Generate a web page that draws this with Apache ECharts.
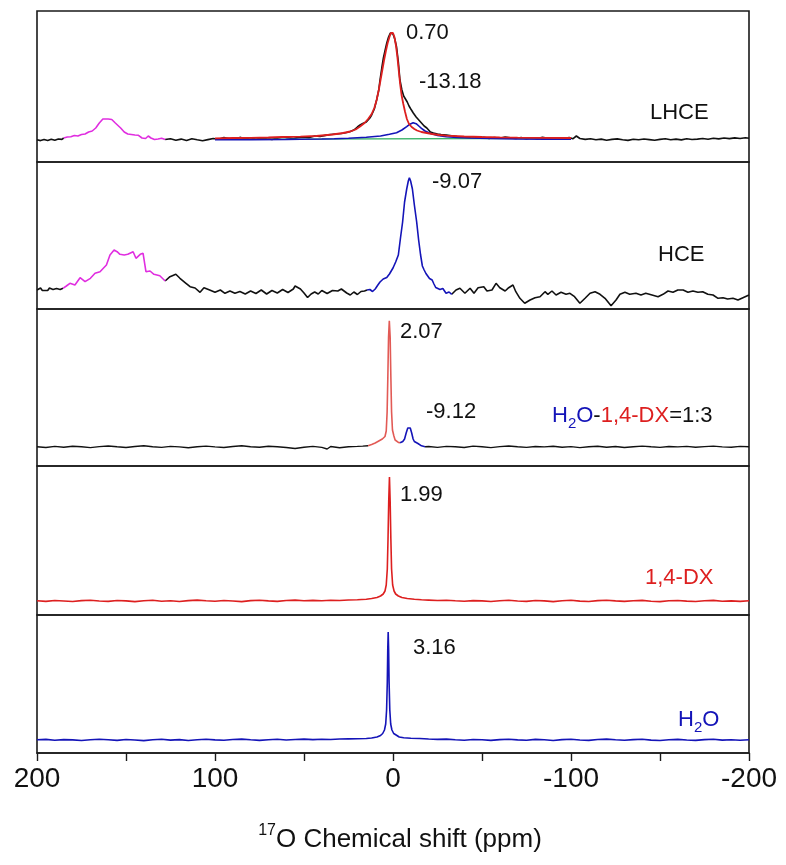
<!DOCTYPE html>
<html><head><meta charset="utf-8">
<script src="https://cdn.jsdelivr.net/npm/echarts@6/dist/echarts.min.js"></script>
<style>html,body{margin:0;padding:0;background:#fff}#c{width:786px;height:865px}</style>
</head><body><div id="c"></div><script>
// ---------- DATA (ppm, intensity a.u.) ----------
const tickLabels = [200, 100, 0, -100, -200];

// Panel 1: LHCE
const lhceExpLeft = [[200,0.3],[198,-0.6],[196,0.6],[194,-0.4],[192,0.8],[190,-0.2],[188,1],[186,0.6],[185,2]];
const lhceMagenta = [[185,2],[183,3],[181,3.3],[179,4.5],[177,4],[175,5.5],[173,6],[171,8],[169,9],[167,12],[165,17],[163,21],[162,23],[160,21],[158,20.5],[156,17],[155,15],[153,12],[151,8],[149,6],[147,5.5],[145,5],[143,4.7],[141,2],[139,1.5],[137.5,4],[136,2],[134,0.5],[132,1],[130,1.8],[128,0.5]];
const lhceExpRight = [[128,0.5],[125,1.2],[122,-0.3],[119,0.9],[116,-0.6],[113,1.3],[110,0.2],[107,-0.8],[104,0.4],[101,1.5],[98,0.8],[95,2.4],[92,1.1],[89,0.9],[86,2.6],[83,1.3],[80,2.2],[77,0.8],[74,1.9],[71,1.2],[68,0.6],[65,1.8],[62,3],[59,2.2],[56,1.4],[53,2.6],[50,3],[47,2.4],[44,4],[41,3.5],[38,4.6],[35,5.5],[32,6],[29,6.5],[26,7.5],[24,8.5],[22,10],[20,13],[18.5,15],[17,16.5],[15,18],[13,22],[12,25],[10.5,31],[9.2,40],[8,50],[7.3,60],[6.3,72],[5.4,82],[4.4,90],[3.5,97],[2.5,103],[1.5,107],[0.7,108],[0,106],[-1,101],[-2,93],[-3,78],[-3.9,60],[-5,50],[-6,44],[-7,41],[-8,38],[-9,34],[-10,31],[-11.4,27],[-13,23],[-14.5,20],[-16,17],[-17.5,14],[-19,12],[-21,8],[-22.7,7],[-25,6],[-27,5.5],[-30,5],[-33,4.2],[-36,3.4],[-39,3.3],[-42,2.6],[-45,3.2],[-48,2.2],[-51,2.8],[-54,1.6],[-57,2.5],[-60,1.8],[-63,2.9],[-66,2.1],[-69,1.5],[-72,2.4],[-75,1.2],[-78,2.2],[-81,1.4],[-84,2.6],[-87,1.8],[-90,1.2],[-93,2.3],[-96,1.6],[-99,2.5],[-101,1.2],[-103,4],[-105,1.5],[-108,0.6],[-111,1.2],[-114,0.2],[-117,0.9],[-120,-0.2],[-123,0.6],[-126,1.1],[-129,0.3],[-132,-0.4],[-135,0.8],[-138,0.2],[-141,1],[-144,0.4],[-147,-0.3],[-150,0.6],[-153,1.2],[-156,0.3],[-159,0.9],[-162,0.1],[-165,1.3],[-168,0.5],[-171,0.9],[-174,1.5],[-177,0.7],[-180,1.8],[-183,1.1],[-186,2],[-189,1.4],[-192,2.1],[-195,1.5],[-198,2.3],[-200,1.7]];
const lhceFit = [[100,1.7],[90,2],[80,2.2],[70,2.5],[62,3],[52,3.3],[43,4],[34,5.5],[28,7],[24,8.5],[21,10.5],[18.5,13.5],[16,17],[14,21],[12,26],[10.5,32],[9.2,40],[8,50],[7,60],[6,70],[5,80],[4,89],[3,97],[2,103],[1.2,107],[0.7,108],[0,107],[-0.8,103],[-1.6,95],[-2.4,84],[-3.2,70],[-4,56],[-4.8,45],[-5.8,36],[-6.8,28],[-7.8,21],[-9,16],[-10.5,13],[-12,11],[-13.5,9.5],[-16,8],[-19,7],[-22,6],[-26,5],[-30,4.3],[-40,3.5],[-50,3],[-60,2.6],[-70,2.3],[-85,2.1],[-100,2]];
const lhceComp = [[100,0.3],[80,0.4],[60,0.6],[52,0.7],[40,1],[33,1.3],[25,1.8],[15,2.7],[7,4],[2,5.8],[-2,7.3],[-5,10],[-7.7,13.3],[-9.5,15.8],[-11.3,17.3],[-13,16.3],[-14.5,14],[-16,11.7],[-18,9],[-20.8,6.7],[-25,4.6],[-30,3.3],[-36,2.5],[-43,2],[-55,1.5],[-70,1.1],[-85,0.9],[-100,0.7]];
const lhceBase = [[100,0.6],[-100,1.8]];

// Panel 2: HCE
const hceExpLeft = [[200,0],[199,-1.5],[198,2],[197,-0.5],[196,1.5],[194,-0.5],[193,2],[191,0.5],[189,1.5],[187,0.5],[186,2.5],[185.4,1.7]];
const hceMagenta = [[185.4,1.7],[183.5,4],[181.5,6.7],[178.7,5],[175.8,12.3],[173,8.3],[170,11.7],[167.4,16.7],[164.6,18.3],[161,25],[159,35],[156.7,40],[155,38.3],[153.4,35.7],[151,35],[149,35.7],[146,38.3],[144.4,31.7],[142,35.7],[140.4,36.7],[138.8,18.3],[136.5,19],[134.3,15.7],[131,14.3],[128,9]];
const hceExpMid = [[128,9],[125.3,13.3],[122,15.7],[119.7,11.7],[116.3,6.7],[114,3.3],[111.2,2],[108.4,-2.3],[106.2,2.3],[103,0],[100,-2.3],[97,0],[94.4,-3.3],[91.6,-1],[88.8,-3.3],[86,-1.5],[83,-4],[80,-1],[77,-3.5],[74,0],[71,-4],[68,-0.5],[65,-3],[62,0.5],[59,-2.5],[56,1],[55,4],[52,1],[50,-3],[48,-7.5],[46,-4],[44,-2],[42,-4],[40,-0.5],[37,-3.5],[34,-0.5],[31,-1],[29,1],[26,-3],[24,-5],[22,-2],[20,-4.5],[18,-1.5],[16,-1],[14.6,0]];
const hceBlue = [[14.6,0],[13,0.5],[11.5,-1.5],[10,1],[8.5,5],[7.3,8],[5.5,11],[3.5,12.5],[2,16],[0,22],[-1.5,28],[-3,35],[-4.2,52],[-5.4,68],[-6.5,88],[-7.7,101],[-8.6,109],[-9.2,112.3],[-9.9,109],[-10.9,101],[-12,85],[-13.3,68],[-14.4,50],[-15.5,35],[-16.5,24],[-17.5,20],[-18.5,16.5],[-19.5,15],[-20.5,11.5],[-22,10],[-23,6],[-24,2.5],[-25,4],[-26.4,0.5],[-28,1.5],[-29.8,-3.3],[-31.5,-2],[-33,-4.3]];
const hceExpRight = [[-33,-4.3],[-35.4,0],[-37.6,1.7],[-40.4,-3.3],[-43.3,1.7],[-45.5,-3.3],[-47.8,2.3],[-51,3.3],[-52.8,-1],[-55.6,0],[-57.9,6.7],[-60,2.3],[-63,-1],[-65,2.3],[-67.4,5],[-69,-1.7],[-71.3,-8.3],[-74,-13.3],[-77,-10],[-79.8,-7.7],[-82.6,-6.7],[-85.4,-1.7],[-87,-4.3],[-89.3,-1],[-91.6,-5],[-94.4,-2.3],[-97.2,-4.3],[-99.4,-3.3],[-102,-6.7],[-105,-13.3],[-107.9,-8.3],[-110.7,-3.3],[-113.5,-1.7],[-116.3,-4.3],[-119.1,-8.3],[-122.5,-15.7],[-125.3,-10],[-127.5,-4.3],[-130.3,-2.3],[-133,-4.3],[-136.5,-3.3],[-139.3,-5],[-142,-3.3],[-145.5,-5],[-148.9,-6.7],[-151.7,-4.3],[-154.5,-1],[-157.3,-2.3],[-160,0],[-163,0],[-165.7,-2.3],[-168.5,-1],[-171.3,-2.3],[-174,-1.7],[-176.9,-4.3],[-179.8,-5],[-182.6,-8.3],[-185.4,-7.7],[-188,-9],[-191,-8.3],[-193.8,-10],[-196.6,-7.7],[-200,-5]];

// Panel 3: H2O-1,4-DX = 1:3
const mixExpLeft = [[200,0.3],[195,-0.5],[190,0.6],[185,-0.3],[180,0.8],[175,0.2],[170,-0.6],[165,0.4],[160,1],[155,0.2],[150,-0.5],[145,0.5],[140,1.2],[135,0.3],[130,-0.4],[125,0.6],[120,0.1],[115,-0.8],[110,0.2],[105,0.9],[100,0.1],[95,-0.5],[90,0.5],[85,1.2],[80,0.2],[75,-0.3],[70,0.8],[65,0.3],[60,-0.5],[55,-1.5],[50,-0.2],[45,0.6],[40,-0.4],[37,-2],[35,0.5],[30,-0.8],[25,0.2],[20,0.6],[17,0.9],[14,1.3]];
const mixRed = [[14,1.3],[12,2.5],[10,4],[8,6],[6,8],[4.5,10.5],[3.8,16],[3.3,35],[2.9,70],[2.5,110],[2.07,126.3],[1.6,110],[1.2,70],[0.8,35],[0.3,17],[-0.5,11],[-1.2,7],[-2,5.3],[-3,4.6],[-4,4.3]];
const mixBlue = [[-4,4.3],[-5.5,5.5],[-6.5,8],[-7.4,14],[-8.3,19],[-9,20.3],[-9.7,19],[-10.5,14],[-11.3,8],[-12,5.5],[-13,4],[-14,3.5],[-15,2],[-16,1.2],[-17,0.5],[-18,0.3]];
const mixExpRight = [[-18,0.3],[-20,0.5],[-25,-0.4],[-30,0.6],[-35,0.2],[-40,-0.5],[-45,0.9],[-50,0.3],[-55,-0.6],[-60,0.4],[-65,1],[-70,0.2],[-75,-0.4],[-80,0.5],[-85,0.1],[-90,0.7],[-95,-0.3],[-100,0.4],[-105,-0.6],[-110,0.3],[-115,0.8],[-120,-0.2],[-125,0.5],[-130,-0.5],[-135,0.3],[-140,0.9],[-145,0.2],[-150,-0.4],[-155,0.5],[-160,0.1],[-165,0.6],[-170,-0.2],[-175,0.4],[-180,0.9],[-185,0.1],[-190,-0.3],[-195,0.6],[-200,0.2]];

// Panel 4: 1,4-DX
const dxSpec = [[200,0.3],[195,-0.4],[190,0.5],[185,0],[180,-0.5],[175,0.4],[170,0.8],[165,0],[160,-0.4],[155,0.5],[150,0.1],[145,-0.6],[140,0.3],[135,0.7],[130,-0.2],[125,0.3],[120,-0.5],[115,0.4],[110,0.9],[105,0.2],[100,-0.3],[95,0.5],[90,0],[85,-0.6],[80,0.4],[75,0.8],[70,0.1],[65,-0.4],[60,0.5],[55,0.9],[50,0.3],[45,0.6],[40,0.2],[35,0.8],[30,0.5],[25,1],[20,1.3],[15,1.8],[12,2.5],[9,3.5],[7,5],[5.5,7],[4.5,10],[3.8,16],[3.2,32],[2.8,62],[2.4,100],[1.99,124],[1.6,100],[1.2,62],[0.8,32],[0.2,16],[-0.6,10],[-1.5,7],[-3,5],[-5,3.5],[-8,2.5],[-12,1.8],[-16,1.2],[-20,0.9],[-25,0.5],[-30,0.8],[-35,0.2],[-40,-0.3],[-45,0.4],[-50,0.1],[-55,-0.5],[-60,0.3],[-65,0.7],[-70,0],[-75,-0.4],[-80,0.5],[-85,0.1],[-90,-0.6],[-95,0.3],[-100,0.7],[-105,-0.1],[-110,-0.5],[-115,0.4],[-120,0.8],[-125,0.1],[-130,-0.4],[-135,0.3],[-140,0.6],[-145,-0.2],[-150,-0.6],[-155,0.2],[-160,0.5],[-165,-0.1],[-170,-0.5],[-175,0.3],[-180,0.6],[-185,-0.2],[-190,0.1],[-195,-0.4],[-200,0.2]];

// Panel 5: H2O
const waterSpec = [[200,0.2],[195,0.6],[190,-0.3],[185,0.4],[180,0.1],[175,-0.5],[170,0.3],[165,0.8],[160,0.2],[155,-0.4],[150,0.5],[145,0],[140,-0.6],[135,0.3],[130,0.7],[125,-0.1],[120,0.4],[115,-0.5],[110,0.2],[105,0.8],[100,0.1],[95,-0.3],[90,0.5],[85,0.9],[80,0.2],[75,-0.4],[70,0.3],[65,0.7],[60,0],[55,0.5],[50,0.9],[45,0.4],[40,0.8],[35,0.5],[30,1],[25,1.1],[20,1.2],[15,1.5],[12,2],[9,3],[7,4.5],[5.8,6.5],[4.8,10],[4.1,16],[3.6,30],[3.2,58],[2.95,90],[2.7,108],[2.45,90],[2.2,58],[1.8,30],[1.3,16],[0.6,10],[-0.4,6.5],[-1.5,4.5],[-3.5,3],[-6,2.2],[-10,1.8],[-15,1.5],[-20,1],[-25,0.6],[-30,0.9],[-35,0.3],[-40,-0.2],[-45,0.5],[-50,0.2],[-55,-0.4],[-60,0.4],[-65,0.8],[-70,0.1],[-75,-0.3],[-80,0.6],[-85,0.2],[-90,-0.5],[-95,0.4],[-100,0.8],[-105,0],[-110,-0.4],[-115,0.5],[-120,0.9],[-125,0.2],[-130,-0.3],[-135,0.4],[-140,0.7],[-145,-0.1],[-150,-0.5],[-155,0.3],[-160,0.6],[-165,0],[-170,-0.4],[-175,0.4],[-180,0.7],[-185,-0.1],[-190,0.2],[-195,-0.3],[-200,0.3]];

// ---------- LAYOUT / STYLE ----------
const FONT = '"Liberation Sans", Arial, Helvetica, sans-serif';
const BLACK = '#111111', RED = '#dd1f1f', RED_LIGHT = '#e25a55', BLUE = '#1414b8', MAG = '#e02ee0', GREEN = '#3cb36a';
const panels = [
  {top: 11,  height: 151, ymin: -22, ymax: 129},
  {top: 162, height: 147, ymin: -19, ymax: 128},
  {top: 309, height: 157, ymin: -19, ymax: 138},
  {top: 466, height: 149, ymin: -14, ymax: 135},
  {top: 615, height: 138, ymin: -13, ymax: 125}
];

const grids = panels.map(p => ({
  left: 37, right: 37, top: p.top, height: p.height,
  show: true, borderColor: '#1a1a1a', borderWidth: 1.6, backgroundColor: 'transparent'
}));
const xAxes = panels.map((p, i) => ({
  type: 'value', gridIndex: i, min: -200, max: 200, interval: 50, inverse: true,
  position: 'bottom',
  show: i === 4,
  axisLine: {show: true, onZero: false, lineStyle: {color: '#1a1a1a', width: 1.6}},
  axisTick: {show: true, inside: false, length: 8, lineStyle: {color: '#1a1a1a', width: 1.4}},
  splitLine: {show: false},
  axisLabel: {
    show: true, fontSize: 28, color: '#111', fontFamily: FONT, margin: 12,
    formatter: v => tickLabels.indexOf(v) >= 0 ? String(v) : ''
  }
}));
const yAxes = panels.map((p, i) => ({
  type: 'value', gridIndex: i, min: p.ymin, max: p.ymax, show: false, splitLine: {show: false}
}));

function ln(i, data, color, w, z) {
  return {
    type: 'line', xAxisIndex: i, yAxisIndex: i, data: data, showSymbol: false, symbol: 'none',
    lineStyle: {color: color, width: w || 1.6}, z: z || 2, animation: false, silent: true
  };
}
const series = [
  ln(0, lhceExpLeft, BLACK), ln(0, lhceExpRight, BLACK), ln(0, lhceMagenta, MAG, 1.6, 3),
  ln(0, lhceBase, GREEN, 1.4, 3), ln(0, lhceComp, BLUE, 1.6, 4), ln(0, lhceFit, RED, 1.8, 5),
  ln(1, hceExpLeft, BLACK), ln(1, hceMagenta, MAG, 1.6, 3), ln(1, hceExpMid, BLACK), ln(1, hceBlue, BLUE, 1.6, 3), ln(1, hceExpRight, BLACK),
  ln(2, mixExpLeft, BLACK, 1.4), ln(2, mixRed, RED_LIGHT, 1.6, 3), ln(2, mixBlue, BLUE, 1.6, 3), ln(2, mixExpRight, BLACK, 1.4),
  ln(3, dxSpec, RED, 1.6),
  ln(4, waterSpec, BLUE, 1.6)
];

function txt(s, x, y, color, size) {
  return {type: 'text', x: x, y: y, z: 10, silent: true,
    style: {text: s, fill: color || '#111', font: (size || 22) + 'px ' + FONT,
      align: 'left', verticalAlign: 'middle', textAlign: 'left', textVerticalAlign: 'middle'}};
}
function rich(s, x, y, richStyles, align) {
  return {type: 'text', x: x, y: y, z: 10, silent: true,
    style: {text: s, rich: richStyles, font: '22px ' + FONT,
      align: align || 'left', verticalAlign: 'middle', textAlign: align || 'left', textVerticalAlign: 'middle'}};
}
const mk = (color, size, lh, va) => ({fill: color, fontSize: size, fontFamily: FONT, lineHeight: lh, verticalAlign: va || 'middle'});

const graphics = [
  txt('0.70', 406, 33), txt('-13.18', 419, 82), txt('LHCE', 650, 113),
  txt('-9.07', 432, 182), txt('HCE', 658, 255),
  txt('2.07', 400, 332), txt('-9.12', 426, 412),
  rich('{b|H}{bs|2}{b|O}{k|-}{r|1,4-DX}{k|=1:3}', 552, 416, {
    b: mk(BLUE, 22, 30), bs: mk(BLUE, 15, 14, 'bottom'), k: mk('#111', 22, 30), r: mk(RED, 22, 30)
  }),
  txt('1.99', 400, 495), txt('1,4-DX', 645, 578, RED),
  txt('3.16', 413, 648),
  rich('{b|H}{bs|2}{b|O}', 678, 720, {b: mk(BLUE, 22, 30), bs: mk(BLUE, 15, 14, 'bottom')}),
  rich('{s|17}{n|O Chemical shift (ppm)}', 400, 840, {
    s: mk('#111', 16, 12, 'top'), n: mk('#111', 26, 34)
  }, 'center')
];

const chart = echarts.init(document.getElementById('c'), null, {renderer: 'canvas'});
chart.setOption({
  animation: false,
  backgroundColor: '#ffffff',
  grid: grids, xAxis: xAxes, yAxis: yAxes, series: series, graphic: graphics
});
</script></body></html>
